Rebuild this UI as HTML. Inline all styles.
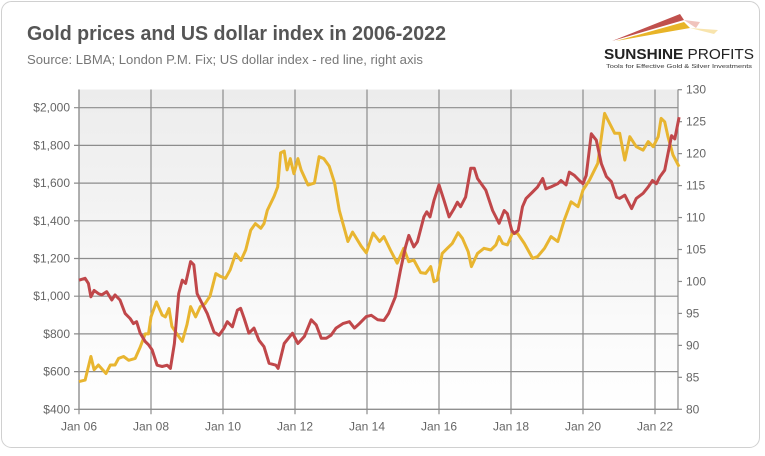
<!DOCTYPE html>
<html><head><meta charset="utf-8"><style>
body{margin:0;background:#fff;width:765px;height:451px;overflow:hidden;font-family:"Liberation Sans",sans-serif}
</style></head><body>
<svg width="765" height="451" viewBox="0 0 765 451" xmlns="http://www.w3.org/2000/svg">
<defs><linearGradient id="bg" x1="0" y1="0" x2="0" y2="1"><stop offset="0" stop-color="#ececec"/><stop offset="1" stop-color="#ffffff"/></linearGradient></defs>
<rect x="1.5" y="1.5" width="758" height="446" rx="10" fill="#fff" stroke="#d0d0d0"/>
<text x="27" y="40" font-size="20" font-weight="bold" fill="#555" textLength="419" lengthAdjust="spacingAndGlyphs">Gold prices and US dollar index in 2006-2022</text>
<text x="27" y="64" font-size="13" fill="#777" textLength="396" lengthAdjust="spacingAndGlyphs">Source: LBMA; London P.M. Fix; US dollar index - red line, right axis</text>
<g>
<polygon points="612,41 680,14 684,20" fill="#c0504d"/>
<polygon points="616,41 684,22 690,28" fill="#e8b428"/>
<polygon points="684,20 700,22 696,28" fill="#e9a9a0" opacity="0.7"/>
<polygon points="690,28 718,30 714,34" fill="#f5d98a" opacity="0.7"/>
<text x="604" y="59" font-size="15" fill="#222" textLength="150" lengthAdjust="spacingAndGlyphs"><tspan font-weight="bold">SUNSHINE</tspan> PROFITS</text>
<text x="606" y="68" font-size="5.5" fill="#333" textLength="146" lengthAdjust="spacingAndGlyphs">Tools for Effective Gold &amp; Silver Investments</text>
</g>
<rect x="79" y="89.5" width="599" height="320" fill="url(#bg)"/>
<g id="grid"></g><g id="axes"></g><g id="series"></g>
</svg>
<script>
const goldYears=[2006.0,2006.17,2006.33,2006.42,2006.54,2006.75,2006.87,2007.0,2007.1,2007.24,2007.38,2007.56,2007.7,2007.84,2007.93,2008.0,2008.15,2008.31,2008.4,2008.5,2008.58,2008.72,2008.87,2009.0,2009.1,2009.24,2009.37,2009.5,2009.64,2009.8,2009.93,2010.07,2010.2,2010.35,2010.5,2010.63,2010.77,2010.9,2011.05,2011.14,2011.23,2011.42,2011.52,2011.6,2011.7,2011.78,2011.87,2011.97,2012.08,2012.17,2012.36,2012.54,2012.67,2012.8,2012.95,2013.1,2013.23,2013.47,2013.6,2013.84,2013.98,2014.17,2014.35,2014.47,2014.65,2014.84,2015.02,2015.16,2015.3,2015.49,2015.63,2015.77,2015.86,2015.95,2016.09,2016.23,2016.37,2016.53,2016.65,2016.81,2016.9,2017.07,2017.25,2017.44,2017.58,2017.67,2017.77,2017.9,2018.04,2018.18,2018.37,2018.6,2018.74,2018.93,2019.11,2019.3,2019.48,2019.67,2019.86,2020.0,2020.18,2020.41,2020.6,2020.74,2020.88,2021.02,2021.16,2021.3,2021.48,2021.67,2021.81,2021.95,2022.09,2022.17,2022.27,2022.36,2022.5,2022.67];
const goldValues=[547,555,680,610,635,590,635,635,670,680,660,670,730,800,800,890,970,900,890,935,840,800,760,850,945,890,945,960,1000,1120,1105,1095,1140,1225,1190,1245,1350,1385,1360,1385,1455,1530,1580,1760,1770,1670,1730,1650,1730,1670,1590,1600,1740,1730,1690,1600,1455,1290,1340,1265,1230,1335,1290,1316,1245,1175,1254,1183,1192,1125,1121,1157,1077,1086,1227,1254,1280,1337,1307,1236,1157,1227,1254,1245,1272,1316,1280,1272,1333,1333,1280,1201,1210,1254,1316,1290,1404,1501,1475,1563,1616,1705,1970,1917,1864,1864,1722,1846,1793,1775,1820,1793,1846,1943,1925,1846,1749,1687];
const usdYears=[2006.0,2006.17,2006.26,2006.33,2006.42,2006.54,2006.63,2006.77,2006.91,2007.0,2007.14,2007.28,2007.42,2007.51,2007.6,2007.7,2007.84,2007.93,2008.03,2008.17,2008.31,2008.45,2008.54,2008.65,2008.77,2008.87,2008.96,2009.1,2009.19,2009.28,2009.37,2009.56,2009.75,2009.89,2010.03,2010.12,2010.26,2010.4,2010.49,2010.59,2010.72,2010.86,2011.0,2011.14,2011.28,2011.47,2011.53,2011.7,2011.93,2012.08,2012.26,2012.45,2012.59,2012.73,2012.87,2013.0,2013.14,2013.33,2013.51,2013.65,2013.79,2013.98,2014.12,2014.3,2014.47,2014.6,2014.79,2014.93,2015.07,2015.16,2015.3,2015.4,2015.58,2015.66,2015.75,2015.86,2016.0,2016.14,2016.28,2016.42,2016.51,2016.6,2016.74,2016.88,2016.98,2017.07,2017.3,2017.49,2017.67,2017.81,2017.9,2018.02,2018.09,2018.2,2018.32,2018.42,2018.6,2018.74,2018.88,2018.97,2019.11,2019.3,2019.39,2019.53,2019.62,2019.76,2019.9,2020.0,2020.09,2020.23,2020.37,2020.51,2020.65,2020.79,2020.93,2021.02,2021.16,2021.35,2021.48,2021.67,2021.81,2021.93,2022.04,2022.14,2022.27,2022.36,2022.46,2022.55,2022.67];
const usdValues=[100.2,100.5,99.7,97.6,98.6,98.1,97.9,98.4,97.1,97.9,97.1,95.0,94.2,93.4,93.7,91.9,90.6,90.1,89.3,86.9,86.7,86.9,86.4,90.3,98.1,100.2,99.7,103.1,102.6,98.1,97.1,95.0,92.1,91.6,92.7,93.7,92.9,95.5,95.8,94.2,91.9,92.7,90.8,89.8,87.2,86.9,86.4,90.3,91.9,90.3,91.4,94.0,93.2,91.1,91.1,91.6,92.7,93.4,93.7,92.7,93.4,94.5,94.7,94.0,93.9,95.0,97.6,101.8,105.4,107.2,105.4,106.2,110.1,110.9,110.1,112.7,115.1,112.7,110.1,111.4,112.4,111.7,113.2,117.7,117.7,116.1,114.3,111.1,109.1,111.1,110.6,108.0,107.5,108.0,111.7,113.0,114.0,114.8,116.1,114.5,114.8,115.3,115.8,115.1,117.1,116.6,115.8,115.3,116.6,123.1,122.1,118.4,116.4,115.6,113.2,113.0,113.5,111.4,113.0,113.8,114.8,115.8,115.3,116.4,117.4,120.0,122.8,122.3,125.7];
const leftTicks=[400,600,800,1000,1200,1400,1600,1800,2000];
const leftTickLabels=["$400","$600","$800","$1,000","$1,200","$1,400","$1,600","$1,800","$2,000"];
const rightTicks=[80,85,90,95,100,105,110,115,120,125,130];
const xTicks=[2006,2008,2010,2012,2014,2016,2018,2020,2022];
const xTickLabels=["Jan 06","Jan 08","Jan 10","Jan 12","Jan 14","Jan 16","Jan 18","Jan 20","Jan 22"];

const X0=79,X1=678,YB=409.3,YT=89.5;
const xs=y=>X0+(y-2006)*36;
const yl=v=>YB-(v-400)*0.1885;
const yr=v=>YB-(v-80)*6.392;
const NS="http://www.w3.org/2000/svg";
function mk(tag,attrs,parent){const e=document.createElementNS(NS,tag);for(const k in attrs)e.setAttribute(k,attrs[k]);parent.appendChild(e);return e;}
const grid=document.getElementById('grid'),axes=document.getElementById('axes'),series=document.getElementById('series');
leftTicks.forEach((t,i)=>{
  const l=mk('line',{x1:X0-5,x2:X1,y1:yl(t),y2:yl(t),stroke:'#8c8c8c','stroke-width':1.2},grid);
  
  
  const tx=mk('text',{x:X0-9,y:yl(t)+4,'text-anchor':'end','font-size':12,fill:'#666'},axes);
  tx.textContent=leftTickLabels[i];
  
  
});
xTicks.forEach((t,i)=>{
  const l=mk('line',{x1:xs(t),x2:xs(t),y1:YT,y2:YB+5,stroke:'#8c8c8c','stroke-width':1.2},grid);
  
  
  const tx=mk('text',{x:xs(t),y:YB+21,'text-anchor':'middle','font-size':12,fill:'#666'},axes);
  tx.textContent=xTickLabels[i];
  
  
});
const ax=mk('line',{x1:X0,x2:X0,y1:YT,y2:YB,stroke:'#8c8c8c','stroke-width':1.2},axes);


const ax2=mk('line',{x1:X1,x2:X1,y1:YT,y2:YB,stroke:'#8c8c8c','stroke-width':1.2},axes);


const ax3=mk('line',{x1:X0,x2:X1,y1:YB,y2:YB,stroke:'#8c8c8c','stroke-width':1.2},axes);


rightTicks.forEach(t=>{
  const l=mk('line',{x1:X1,x2:X1+4,y1:yr(t),y2:yr(t),stroke:'#8c8c8c','stroke-width':1.2},axes);
  
  
  const tx=mk('text',{x:X1+8,y:yr(t)+4,'font-size':12,fill:'#666'},axes);
  tx.textContent=t;
  
  
});
const gp=mk('polyline',{points:goldYears.map((y,i)=>xs(y).toFixed(1)+','+yl(goldValues[i]).toFixed(1)).join(' '),fill:'none',stroke:'#e8b530','stroke-width':3,'stroke-linejoin':'round'},series);


const up=mk('polyline',{points:usdYears.map((y,i)=>xs(y).toFixed(1)+','+yr(usdValues[i]).toFixed(1)).join(' '),fill:'none',stroke:'#c0474a','stroke-width':3,'stroke-linejoin':'round'},series);


</script>
</body></html>
